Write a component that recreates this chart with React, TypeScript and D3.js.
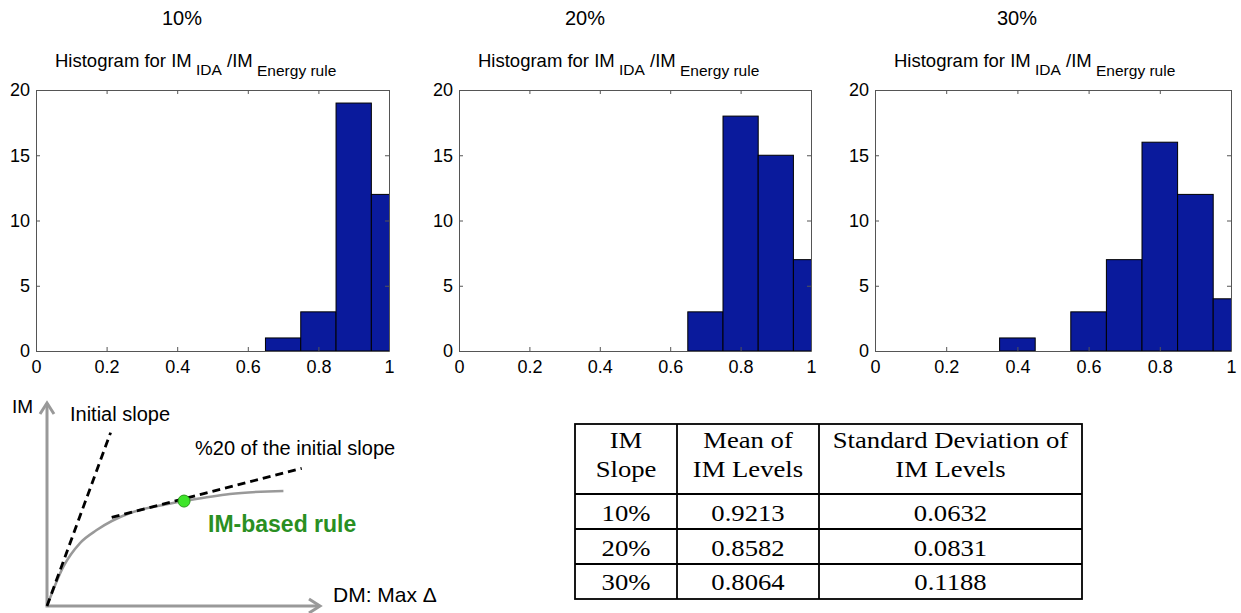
import React, { useEffect, useRef } from 'react';
import * as d3 from 'd3';

// histogram bins (centre of each 0.1 wide bin) and counts per IM slope
const slopeLabels = ['10%', '20%', '30%'];
const binCenters = [0.4, 0.5, 0.6, 0.7, 0.8, 0.9, 1.0];
const counts10 = [0, 0, 0, 1, 3, 19, 12];
const counts20 = [0, 0, 0, 3, 18, 15, 7];
const counts30 = [1, 0, 3, 7, 16, 12, 4];
const xTicks = [0, 0.2, 0.4, 0.6, 0.8, 1];
const yTicks = [0, 5, 10, 15, 20];

// summary table
const tableHeader = [
  ['IM', 'Slope'],
  ['Mean of', 'IM Levels'],
  ['Standard Deviation of', 'IM Levels'],
];
const meanLevels = ['0.9213', '0.8582', '0.8064'];
const stdLevels = ['0.0632', '0.0831', '0.1188'];

// schematic IM vs DM curve (unit coordinates of the sketch)
const curveX = [0, 0.06, 0.121, 0.182, 0.304, 0.425, 0.502, 0.67, 0.866];
const curveY = [0, 0.194, 0.31, 0.374, 0.458, 0.498, 0.517, 0.552, 0.567];
const initialSlope = [[0, 0], [0.233, 0.854]];
const reducedSlope = [[0.237, 0.437], [0.933, 0.678]];
const rulePoint = [0.502, 0.517];

const BAR = '#0a1a9c';
const AXIS = '#555';
const SANS = "'Liberation Sans', Arial, sans-serif";
const SERIF = "'Liberation Serif', 'Times New Roman', serif";

const App = () => {
  const ref = useRef<SVGSVGElement>(null);

  useEffect(() => {
    if (!ref.current) return;
    const svg = d3.select(ref.current);
    svg.selectAll('*').remove();

    // ---- histograms
    const panels = [
      { title: slopeLabels[0], counts: counts10, left: 36, right: 389, titleX: 182 },
      { title: slopeLabels[1], counts: counts20, left: 459, right: 811, titleX: 585 },
      { title: slopeLabels[2], counts: counts30, left: 875, right: 1231, titleX: 1017 },
    ];
    const top = 90;
    const bottom = 351;
    const binWidth = 0.1;

    panels.forEach((p, pi) => {
      const x = d3.scaleLinear().domain([0, 1]).range([p.left, p.right]);
      const y = d3.scaleLinear().domain([0, 20]).range([bottom, top]);
      const g = svg.append('g');

      g.append('text')
        .attr('x', p.titleX)
        .attr('y', 25)
        .attr('text-anchor', 'middle')
        .style('font-family', SANS)
        .style('font-size', '20px')
        .text(p.title);

      const sub = g.append('text')
        .attr('x', p.left + 19)
        .attr('y', 67)
        .style('font-family', SANS)
        .style('font-size', '18.5px');
      sub.append('tspan').text('Histogram for IM');
      sub.append('tspan').attr('dy', 8).style('font-size', '15.5px').text(' IDA');
      sub.append('tspan').attr('dy', -8).text(' /IM');
      sub.append('tspan').attr('dy', 9).style('font-size', '15.5px').text(' Energy rule');

      const clipId = `hclip${pi}`;
      g.append('clipPath').attr('id', clipId)
        .append('rect')
        .attr('x', p.left).attr('y', top)
        .attr('width', p.right - p.left).attr('height', bottom - top);

      const bins = binCenters.map((c, i) => ({ c, n: p.counts[i] })).filter((d) => d.n > 0);
      g.append('g')
        .attr('clip-path', `url(#${clipId})`)
        .selectAll('rect')
        .data(bins)
        .join('rect')
        .attr('x', (d) => x(d.c - binWidth / 2))
        .attr('width', (d) => x(d.c + binWidth / 2) - x(d.c - binWidth / 2))
        .attr('y', (d) => y(d.n))
        .attr('height', (d) => y(0) - y(d.n))
        .attr('fill', BAR)
        .attr('stroke', '#000')
        .attr('stroke-width', 1);

      const styleAxis = (sel: any) => {
        sel.select('.domain').attr('stroke', AXIS);
        sel.selectAll('.tick line').attr('stroke', AXIS);
        sel.selectAll('text').style('font-family', SANS).style('font-size', '18px').attr('fill', '#000');
      };

      g.append('g')
        .attr('transform', `translate(0,${bottom})`)
        .call(d3.axisBottom(x).tickValues(xTicks).tickFormat(d3.format('~g') as any).tickSizeInner(-4).tickSizeOuter(0).tickPadding(9))
        .call(styleAxis);
      g.append('g')
        .attr('transform', `translate(0,${top})`)
        .call(d3.axisTop(x).tickValues(xTicks).tickFormat(() => '').tickSizeInner(-4).tickSizeOuter(0))
        .call(styleAxis);
      g.append('g')
        .attr('transform', `translate(${p.left},0)`)
        .call(d3.axisLeft(y).tickValues(yTicks).tickSizeInner(-4).tickSizeOuter(0).tickPadding(6))
        .call(styleAxis);
      g.append('g')
        .attr('transform', `translate(${p.right},0)`)
        .call(d3.axisRight(y).tickValues(yTicks).tickFormat(() => '').tickSizeInner(-4).tickSizeOuter(0))
        .call(styleAxis);
    });

    // ---- schematic
    const sx = d3.scaleLinear().domain([0, 1]).range([47, 320]);
    const sy = d3.scaleLinear().domain([0, 1]).range([606, 403]);
    const sk = svg.append('g');
    const grey = '#999';

    sk.append('path')
      .attr('d', `M${sx(0)},${sy(1)}V${sy(0)}H${sx(1)}`)
      .attr('fill', 'none').attr('stroke', grey).attr('stroke-width', 3);
    sk.append('path')
      .attr('d', `M${sx(0) - 7},${sy(1) + 11}L${sx(0)},${sy(1)}L${sx(0) + 7},${sy(1) + 11}`)
      .attr('fill', 'none').attr('stroke', grey).attr('stroke-width', 3);
    sk.append('path')
      .attr('d', `M${sx(1) - 11},${sy(0) - 7}L${sx(1)},${sy(0)}L${sx(1) - 11},${sy(0) + 7}`)
      .attr('fill', 'none').attr('stroke', grey).attr('stroke-width', 3);

    const curve = d3.line<number[]>().x((d) => sx(d[0])).y((d) => sy(d[1])).curve(d3.curveMonotoneX);
    sk.append('path')
      .attr('d', curve(curveX.map((v, i) => [v, curveY[i]])))
      .attr('fill', 'none').attr('stroke', grey).attr('stroke-width', 2.5);

    const straight = d3.line<number[]>().x((d) => sx(d[0])).y((d) => sy(d[1]));
    [initialSlope, reducedSlope].forEach((seg) => {
      sk.append('path')
        .attr('d', straight(seg))
        .attr('fill', 'none').attr('stroke', '#000').attr('stroke-width', 2.8)
        .attr('stroke-dasharray', '8,5');
    });

    sk.append('circle')
      .attr('cx', sx(rulePoint[0])).attr('cy', sy(rulePoint[1])).attr('r', 6)
      .attr('fill', '#3ee52a').attr('stroke', '#2a9a1a').attr('stroke-width', 1);

    const label = (x: number, y: number, txt: string, size: number, extra?: (s: any) => void) => {
      const t = sk.append('text').attr('x', x).attr('y', y)
        .style('font-family', SANS).style('font-size', `${size}px`).text(txt);
      if (extra) extra(t);
    };
    label(12, 413, 'IM', 19);
    label(70, 421, 'Initial slope', 20);
    label(195, 455, '%20 of the initial slope', 20);
    label(208, 532, 'IM-based rule', 23, (t) => t.style('font-weight', 'bold').attr('fill', '#2a8f22'));
    label(333, 602, 'DM: Max Δ', 21);

    // ---- table
    const colEdges = [575, 677, 819, 1082];
    const rowEdges = [424, 494, 529, 564, 599];
    const tb = svg.append('g');
    tb.append('rect')
      .attr('x', colEdges[0]).attr('y', rowEdges[0])
      .attr('width', colEdges[3] - colEdges[0]).attr('height', rowEdges[4] - rowEdges[0])
      .attr('fill', 'none').attr('stroke', '#000').attr('stroke-width', 1.8);
    colEdges.slice(1, 3).forEach((cx) => {
      tb.append('line').attr('x1', cx).attr('x2', cx).attr('y1', rowEdges[0]).attr('y2', rowEdges[4])
        .attr('stroke', '#000').attr('stroke-width', 1.8);
    });
    rowEdges.slice(1, 4).forEach((ry) => {
      tb.append('line').attr('x1', colEdges[0]).attr('x2', colEdges[3]).attr('y1', ry).attr('y2', ry)
        .attr('stroke', '#000').attr('stroke-width', 1.8);
    });

    const cell = (cx: number, by: number, txt: string) => {
      tb.append('text')
        .attr('transform', `translate(${cx},${by}) scale(1.16,1)`)
        .attr('text-anchor', 'middle')
        .style('font-family', SERIF).style('font-size', '23px')
        .text(txt);
    };
    const colMid = (i: number) => (colEdges[i] + colEdges[i + 1]) / 2;
    tableHeader.forEach((lines, ci) => {
      cell(colMid(ci), 448, lines[0]);
      cell(colMid(ci), 477, lines[1]);
    });
    const rowBase = [521, 556, 590];
    slopeLabels.forEach((s, ri) => {
      cell(colMid(0), rowBase[ri], s);
      cell(colMid(1), rowBase[ri], meanLevels[ri]);
      cell(colMid(2), rowBase[ri], stdLevels[ri]);
    });
  }, []);

  return (
    <svg
      ref={ref}
      width={1241}
      height={613}
      style={{ position: 'absolute', left: 0, top: 0, background: '#fff' }}
    />
  );
};

export default App;
